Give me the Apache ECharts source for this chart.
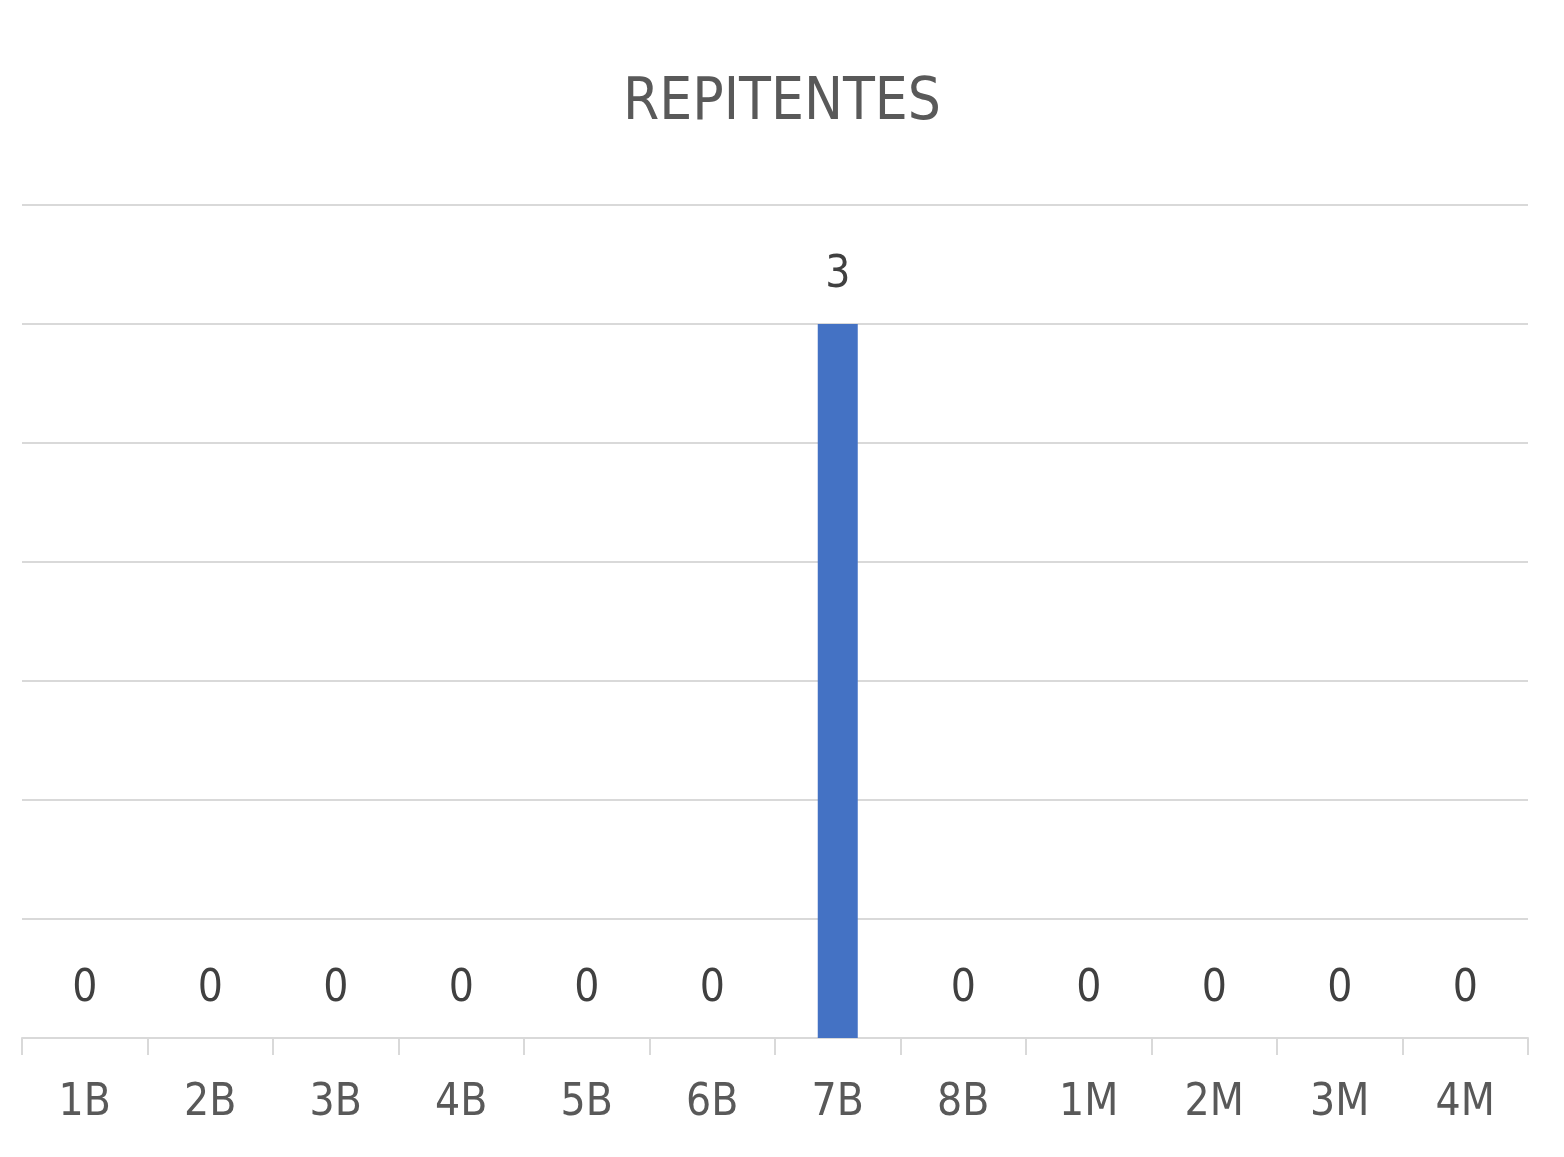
<!DOCTYPE html>
<html>
<head>
<meta charset="utf-8">
<title>REPITENTES</title>
<script src="https://cdn.jsdelivr.net/npm/echarts@6/dist/echarts.min.js"></script>
<style>
  html, body { margin: 0; padding: 0; background: #fff; }
  #chart { width: 1564px; height: 1157px; }
</style>
</head>
<body>
<div id="chart"></div>
<script>
// 数据
const categories = ['1B', '2B', '3B', '4B', '5B', '6B', '7B', '8B', '1M', '2M', '3M', '4M']
const repitentes = [0, 0, 0, 0, 0, 0, 3, 0, 0, 0, 0, 0]

const chartFont = '"Liberation Sans Narrow", "DejaVu Sans Condensed", "Liberation Sans", sans-serif'

const chart = echarts.init(document.getElementById('chart'))

chart.setOption({
  animation: false,
  textStyle: { fontFamily: chartFont },
  title: {
    text: 'REPITENTES',
    left: 'center',
    top: 70,
    textStyle: {
      fontFamily: chartFont,
      fontSize: 58,
      fontWeight: 'normal',
      color: '#595959'
    }
  },
  grid: {
    left: 22,
    right: 36,
    top: 205,
    bottom: 119
  },
  xAxis: {
    type: 'category',
    data: categories,
    axisLine: { lineStyle: { color: '#d9d9d9', width: 2 } },
    axisTick: { show: true, length: 17, lineStyle: { color: '#d9d9d9', width: 2 } },
    axisLabel: {
      margin: 44,
      fontSize: 44,
      color: '#595959',
      fontFamily: chartFont
    }
  },
  yAxis: {
    type: 'value',
    min: 0,
    max: 3.5,
    interval: 0.5,
    axisLabel: { show: false },
    axisLine: { show: false },
    axisTick: { show: false },
    splitLine: { lineStyle: { color: '#d9d9d9', width: 2 } }
  },
  series: [
    {
      name: 'REPITENTES',
      type: 'bar',
      data: repitentes,
      barWidth: 40,
      itemStyle: { color: '#4472c4' },
      label: {
        show: true,
        position: 'top',
        distance: 26,
        fontSize: 44,
        color: '#404040',
        fontFamily: chartFont
      }
    }
  ]
})
</script>
</body>
</html>
